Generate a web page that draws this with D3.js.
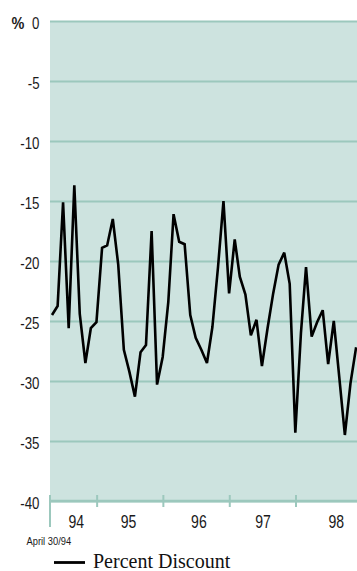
<!DOCTYPE html>
<html>
<head>
<meta charset="utf-8">
<script src="https://cdn.jsdelivr.net/npm/d3@7"></script>
<style>
  html, body { margin: 0; padding: 0; background: #ffffff; }
  svg { display: block; }
  .num { font-family: "Liberation Sans", Arial, sans-serif; fill: #1a1a1a; }
</style>
</head>
<body>
<svg id="chart" width="357" height="571"></svg>
<script>
// ---- data ----
const months = [
  "1994-04","1994-05","1994-06","1994-07","1994-08","1994-09","1994-10","1994-11","1994-12",
  "1995-01","1995-02","1995-03","1995-04","1995-05","1995-06","1995-07","1995-08","1995-09","1995-10","1995-11","1995-12",
  "1996-01","1996-02","1996-03","1996-04","1996-05","1996-06","1996-07","1996-08","1996-09","1996-10","1996-11","1996-12",
  "1997-01","1997-02","1997-03","1997-04","1997-05","1997-06","1997-07","1997-08","1997-09","1997-10","1997-11","1997-12",
  "1998-01","1998-02","1998-03","1998-04","1998-05","1998-06","1998-07","1998-08","1998-09","1998-10","1998-11","1998-12"
];
const discount = [
  -24.5,-23.75,-15.1,-25.6,-13.7,-24.4,-28.5,-25.6,-25.1,
  -18.9,-18.7,-16.5,-20.3,-27.4,-29.2,-31.3,-27.6,-27.0,-17.5,-30.3,-28.0,
  -23.4,-16.1,-18.4,-18.6,-24.5,-26.4,-27.4,-28.5,-25.5,-20.5,-15.0,-22.7,
  -18.2,-21.3,-22.8,-26.2,-24.9,-28.75,-25.6,-22.7,-20.3,-19.3,-21.9,-34.3,
  -26.0,-20.5,-26.3,-25.1,-24.1,-28.6,-25.0,-29.8,-34.5,-30.2,-27.3,-27.4
];
const yTicks = [0,-5,-10,-15,-20,-25,-30,-35,-40];
const yearLabels = ["94","95","96","97","98"];
const yearBoundaries = [1995,1996,1997,1998];
const startLabel = "April 30/94";
const seriesName = "Percent Discount";

// ---- layout ----
const mLeft = 50, mRight = 357, mTop = 21, mBottom = 501;
const bg = "#cde3df", grid = "#9cc8bd";
const cond = 0.78;

const svg = d3.select("#chart");

const monthEnd = s => { const [yy,m] = s.split("-").map(Number); return new Date(yy, m, 0); };
const data = months.map((m,i) => ({ date: monthEnd(m), v: discount[i] }));

const x = d3.scaleTime()
  .domain([new Date(1994,3,30), new Date(1998,0,1)])
  .range([52, 295.5]);
const y = d3.scaleLinear().domain([-40, 0]).range([mBottom, mTop]);

// background
svg.append("rect").attr("x", mLeft).attr("y", mTop).attr("width", mRight - mLeft).attr("height", mBottom - mTop).attr("fill", bg);

// gridlines
const yAxis = d3.axisLeft(y).tickValues(yTicks).tickSize(-(mRight - mLeft)).tickFormat("");
const gy = svg.append("g").attr("transform", `translate(${mLeft},0)`).call(yAxis);
gy.select(".domain").remove();
gy.selectAll(".tick line").attr("stroke", grid).attr("stroke-width", 2);

// y labels
svg.append("g").selectAll("text").data(yTicks).join("text")
  .attr("class", "num")
  .attr("transform", d => `translate(39.5,${y(d) + 7.5}) scale(${cond},1)`)
  .attr("text-anchor", "end")
  .attr("font-size", 17)
  .text(d => d === 0 ? "0" : String(d));
svg.append("text").attr("class", "num")
  .attr("transform", `translate(11.5,${y(0) + 7.5}) scale(0.85,1)`)
  .attr("font-size", 17).attr("font-weight", "bold")
  .text("%");

// bottom axis line, left stub, ticks
svg.append("line").attr("x1", mLeft).attr("x2", mRight).attr("y1", mBottom).attr("y2", mBottom)
  .attr("stroke", grid).attr("stroke-width", 2.5);
svg.append("line").attr("x1", mLeft).attr("x2", mLeft).attr("y1", 495).attr("y2", 527)
  .attr("stroke", grid).attr("stroke-width", 2);
const xAxis = d3.axisBottom(x).tickValues(yearBoundaries.map(yy => new Date(yy,0,1))).tickSize(12).tickFormat("");
const gx = svg.append("g").attr("transform", "translate(0,495)").call(xAxis);
gx.select(".domain").remove();
gx.selectAll(".tick line").attr("stroke", grid).attr("stroke-width", 2);

// year labels
const nudge = [13, -1, 3, 1, 8];
svg.append("g").selectAll("text").data(yearLabels).join("text")
  .attr("class", "num")
  .attr("transform", (d,i) => `translate(${x(new Date(1994 + i, 6, 1)) + nudge[i]},528) scale(${cond},1)`)
  .attr("text-anchor", "middle")
  .attr("font-size", 18)
  .text(d => d);
svg.append("text").attr("class", "num")
  .attr("transform", `translate(26.5,544.5) scale(0.85,1)`)
  .attr("font-size", 11)
  .text(startLabel);

// clip
svg.append("clipPath").attr("id", "clip").append("rect")
  .attr("x", mLeft).attr("y", 0).attr("width", mRight - mLeft).attr("height", mBottom + 5);

// line
const line = d3.line().x(d => x(d.date)).y(d => y(d.v));
svg.append("path").datum(data)
  .attr("clip-path", "url(#clip)")
  .attr("d", line)
  .attr("fill", "none").attr("stroke", "#000").attr("stroke-width", 2.6)
  .attr("stroke-linejoin", "miter").attr("stroke-miterlimit", 3);

// legend
svg.append("line").attr("x1", 54).attr("x2", 85).attr("y1", 562.5).attr("y2", 562.5)
  .attr("stroke", "#000").attr("stroke-width", 2.8);
svg.append("text")
  .attr("x", 93).attr("y", 567.5)
  .attr("font-family", "'Liberation Serif', 'Times New Roman', serif")
  .attr("font-size", 20).attr("fill", "#111")
  .text(seriesName);
</script>
</body>
</html>
